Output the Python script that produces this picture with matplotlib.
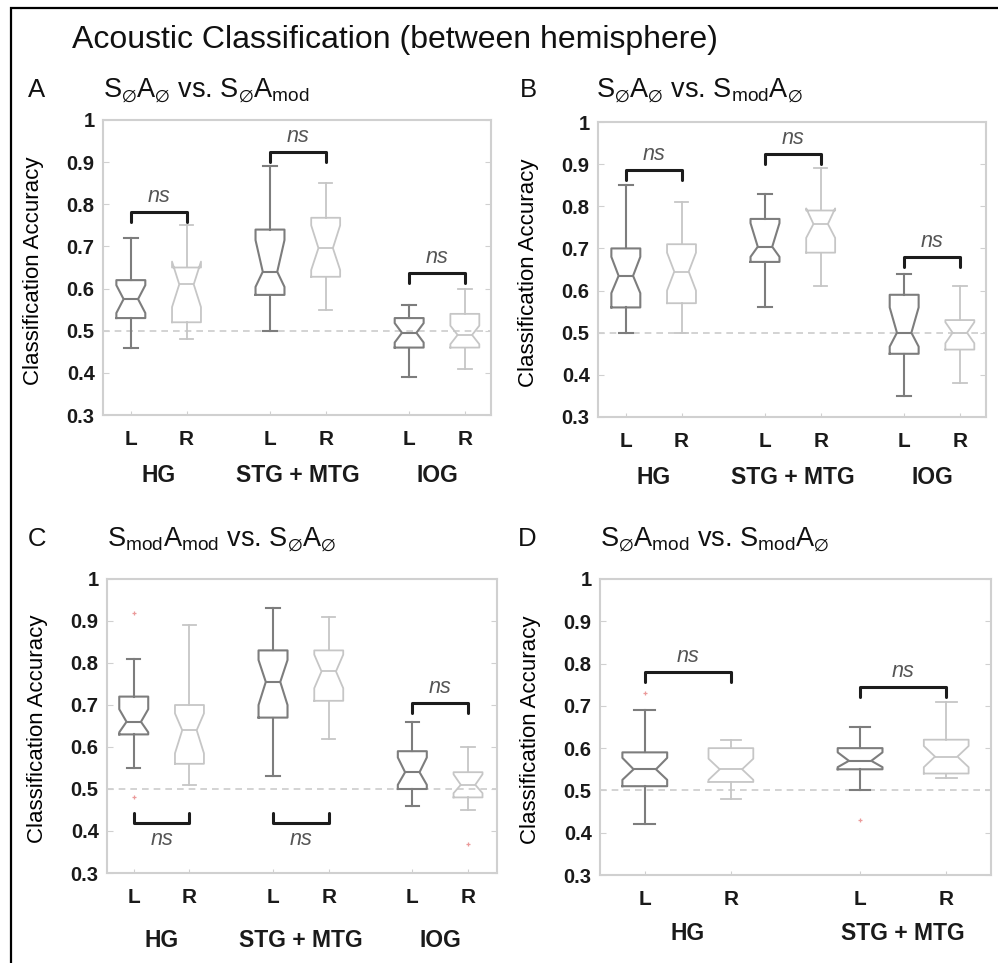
import matplotlib
matplotlib.use('Agg')
import matplotlib.pyplot as plt
from matplotlib.patches import Rectangle

plt.rcParams['font.family'] = ['Liberation Sans', 'DejaVu Sans']
plt.rcParams['mathtext.fontset'] = 'custom'
plt.rcParams['mathtext.rm'] = 'Liberation Sans'
plt.rcParams['mathtext.it'] = 'Liberation Sans:italic'
plt.rcParams['mathtext.default'] = 'regular'

# ---------------- data ----------------
hemis = ['L', 'R']
regions3 = ['HG', 'STG + MTG', 'IOG']
regions2 = ['HG', 'STG + MTG']
yticks = [0.3, 0.4, 0.5, 0.6, 0.7, 0.8, 0.9, 1.0]
ytick_labels = ['0.3', '0.4', '0.5', '0.6', '0.7', '0.8', '0.9', '1']
chance = 0.5

# Panel A : order HG L, HG R, STG L, STG R, IOG L, IOG R
A_whislo = [0.46, 0.48, 0.50, 0.55, 0.39, 0.41]
A_q1     = [0.53, 0.52, 0.585, 0.628, 0.46, 0.46]
A_med    = [0.575, 0.61, 0.64, 0.696, 0.495, 0.49]
A_q3     = [0.62, 0.65, 0.74, 0.768, 0.53, 0.54]
A_whishi = [0.72, 0.75, 0.89, 0.85, 0.56, 0.60]
A_cilo   = [0.542, 0.556, 0.604, 0.644, 0.472, 0.468]
A_cihi   = [0.608, 0.664, 0.715, 0.75, 0.518, 0.512]
A_fliers = [[], [], [], [], [], []]
A_brackets = [0.782, 0.924, 0.637]

# Panel B
B_whislo = [0.50, 0.50, 0.56, 0.61, 0.35, 0.38]
B_q1     = [0.56, 0.57, 0.668, 0.69, 0.45, 0.46]
B_med    = [0.635, 0.645, 0.704, 0.758, 0.50, 0.50]
B_q3     = [0.70, 0.71, 0.77, 0.79, 0.59, 0.53]
B_whishi = [0.85, 0.81, 0.83, 0.89, 0.64, 0.61]
B_cilo   = [0.594, 0.60, 0.68, 0.725, 0.467, 0.475]
B_cihi   = [0.68, 0.69, 0.76, 0.795, 0.56, 0.525]
B_fliers = [[], [], [], [], [], []]
B_brackets = [0.886, 0.924, 0.68]

# Panel C
C_whislo = [0.55, 0.51, 0.53, 0.62, 0.46, 0.45]
C_q1     = [0.63, 0.56, 0.67, 0.71, 0.50, 0.48]
C_med    = [0.66, 0.64, 0.755, 0.78, 0.54, 0.51]
C_q3     = [0.72, 0.70, 0.83, 0.83, 0.59, 0.54]
C_whishi = [0.81, 0.89, 0.93, 0.91, 0.66, 0.60]
C_cilo   = [0.635, 0.585, 0.70, 0.74, 0.51, 0.49]
C_cihi   = [0.69, 0.68, 0.807, 0.82, 0.575, 0.535]
C_fliers = [[0.92, 0.48], [], [], [], [], [0.37]]
C_brackets = [0.42, 0.42, 0.705]

# Panel D : order HG L, HG R, STG L, STG R
D_whislo = [0.42, 0.48, 0.50, 0.53]
D_q1     = [0.51, 0.52, 0.55, 0.54]
D_med    = [0.55, 0.55, 0.57, 0.58]
D_q3     = [0.59, 0.60, 0.60, 0.62]
D_whishi = [0.69, 0.62, 0.65, 0.71]
D_cilo   = [0.525, 0.525, 0.555, 0.555]
D_cihi   = [0.577, 0.575, 0.59, 0.605]
D_fliers = [[0.73], [], [0.43], []]
D_brackets = [0.78, 0.745]

# ---------------- styling ----------------
W, H = 998, 963
fig = plt.figure(figsize=(W / 100, H / 100), dpi=100)

def fx(px):
    return px / W

def fy(py):
    return 1 - py / H

L_COLOR = '#7d7d7d'
R_COLOR = '#c6c6c6'
SPINE = '#d0d0d0'


def make_stats(whislo, q1, med, q3, whishi, cilo, cihi, fliers):
    out = []
    for i in range(len(med)):
        out.append(dict(whislo=whislo[i], q1=q1[i], med=med[i], q3=q3[i],
                        whishi=whishi[i], cilo=cilo[i], cihi=cihi[i],
                        fliers=fliers[i]))
    return out


def draw_panel(rect_px, stats, regions, xlim, brackets, below, region_off):
    left, top, right, bottom = rect_px
    ax = fig.add_axes([fx(left), fy(bottom), fx(right - left), (bottom - top) / H])
    positions = []
    for i in range(len(regions)):
        for j in range(len(hemis)):
            positions.append(1 + 2.5 * i + j)
    art = ax.bxp(stats, positions=positions, widths=0.52, shownotches=True,
                 manage_ticks=False, capwidths=0.24,
                 flierprops=dict(marker='+', markeredgecolor='#eb9a9a',
                                 markersize=3, markeredgewidth=0.9))
    for k in range(len(stats)):
        c = L_COLOR if k % 2 == 0 else R_COLOR
        lw = 1.5 if k % 2 == 0 else 1.3
        art['boxes'][k].set(color=c, linewidth=lw)
        art['medians'][k].set(color=c, linewidth=lw)
        for w in art['whiskers'][2 * k:2 * k + 2]:
            w.set(color=c, linewidth=lw, linestyle='-')
        for cp in art['caps'][2 * k:2 * k + 2]:
            cp.set(color=c, linewidth=lw)
    ax.axhline(chance, color='#cccccc', linestyle=(0, (4, 3)), linewidth=1.2, zorder=0)
    ax.set_xlim(*xlim)
    ax.set_ylim(0.3, 1.0)
    ax.set_yticks(yticks)
    ax.set_yticklabels(ytick_labels, fontsize=14.5, fontweight='bold', color='#1a1a1a')
    ax.set_xticks(positions)
    ax.set_xticklabels(hemis * len(regions), fontsize=15, fontweight='bold', color='#1a1a1a')
    ax.tick_params(axis='y', direction='in', length=4, color=SPINE, right=True, pad=6)
    ax.tick_params(axis='x', direction='in', length=3, color=SPINE, pad=11)
    for s in ax.spines.values():
        s.set_color(SPINE)
        s.set_linewidth(1.5)
    ax.set_ylabel('Classification Accuracy', fontsize=16, va='center')
    ax.yaxis.set_label_coords(-0.178, 0.49)
    # region names
    for i, name in enumerate(regions):
        xc = (positions[2 * i] + positions[2 * i + 1]) / 2
        ax.annotate(name, xy=(xc, 0), xycoords=('data', 'axes fraction'),
                    xytext=(0, -region_off * 72 / 100), textcoords='offset points',
                    ha='center', va='center', fontsize=16.5, fontweight='bold',
                    color='#1a1a1a', annotation_clip=False)
    # significance brackets
    arm = 0.024
    for i, yb in enumerate(brackets):
        x1, x2 = positions[2 * i], positions[2 * i + 1]
        if below[i]:
            ys = [yb + arm, yb, yb, yb + arm]
            ty = yb - 0.04
        else:
            ys = [yb - arm, yb, yb, yb - arm]
            ty = yb + 0.036
        ax.plot([x1, x1, x2, x2], ys, color='#1c1c1c', linewidth=2.2,
                solid_joinstyle='round', solid_capstyle='round', zorder=5)
        ax.text((x1 + x2) / 2, ty, 'ns', ha='center', va='center', fontsize=15.5,
                style='italic', color='#555555')
    return ax


draw_panel((103, 120, 491, 415),
           make_stats(A_whislo, A_q1, A_med, A_q3, A_whishi, A_cilo, A_cihi, A_fliers),
           regions3, (0.5, 7.47), A_brackets, [False, False, False], 60)
draw_panel((598, 122, 986, 417),
           make_stats(B_whislo, B_q1, B_med, B_q3, B_whishi, B_cilo, B_cihi, B_fliers),
           regions3, (0.5, 7.47), B_brackets, [False, False, False], 61)
draw_panel((107, 579, 497, 873),
           make_stats(C_whislo, C_q1, C_med, C_q3, C_whishi, C_cilo, C_cihi, C_fliers),
           regions3, (0.52, 7.52), C_brackets, [True, True, False], 67)
draw_panel((600, 579, 991, 875),
           make_stats(D_whislo, D_q1, D_med, D_q3, D_whishi, D_cilo, D_cihi, D_fliers),
           regions2, (0.48, 5.02), D_brackets, [False, False], 58)

# titles
fig.text(fx(72), fy(48), 'Acoustic Classification (between hemisphere)',
         fontsize=23, ha='left', va='baseline', color='#111111')
panels = [
    ('A', 28, 97, 103, 'S$_{∅}$A$_{∅}$ vs. S$_{∅}$A$_{mod}$'),
    ('B', 520, 97, 596, 'S$_{∅}$A$_{∅}$ vs. S$_{mod}$A$_{∅}$'),
    ('C', 28, 546, 107, 'S$_{mod}$A$_{mod}$ vs. S$_{∅}$A$_{∅}$'),
    ('D', 518, 546, 600, 'S$_{∅}$A$_{mod}$ vs. S$_{mod}$A$_{∅}$'),
]
for letter, lx, by, sx, sub in panels:
    fig.text(fx(lx), fy(by), letter, fontsize=18.5, ha='left', va='baseline', color='#111111')
    fig.text(fx(sx), fy(by), sub, fontsize=19.5, ha='left', va='baseline', color='#111111')

# outer frame
fig.add_artist(Rectangle((fx(11), -0.05), 1.2, fy(8) + 0.05, transform=fig.transFigure,
                         fill=False, edgecolor='black', linewidth=1.6, clip_on=False))

fig.savefig('out.png', dpi=100, facecolor='white')
